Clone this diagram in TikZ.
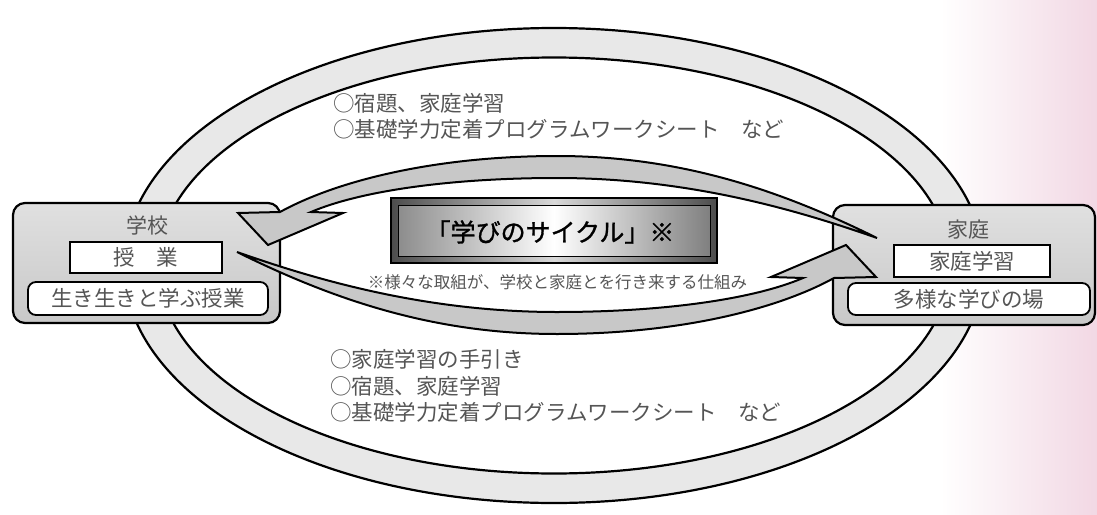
\documentclass[tikz,border=0pt]{standalone}
\usepackage{fontspec}
\newfontfamily\jp{Noto Sans CJK JP}
\newfontfamily\jpbold{Noto Sans CJK JP}[FakeBold=1.2]
\definecolor{txt}{RGB}{85,85,85}
\definecolor{ringfill}{RGB}{232,232,232}
\definecolor{arrowfill}{RGB}{200,200,200}
\definecolor{boxtop}{RGB}{224,224,224}
\definecolor{boxbot}{RGB}{200,200,200}
\definecolor{bgpink}{RGB}{242,216,228}
\begin{document}
\begin{tikzpicture}[x=1pt,y=-1pt,
  sidebox/.style={draw=black, line width=2.2pt, rounded corners=12pt, top color=boxtop, bottom color=boxbot, inner sep=0pt},
  innerbox/.style={draw=black, line width=1.8pt, fill=white, inner sep=0pt, text=txt, font={\jp\fontsize{21.5}{26}\selectfont}},
  lbl/.style={text=txt, inner sep=0pt, font={\jp\fontsize{21}{26}\selectfont}},
  body/.style={text=txt, inner sep=0pt, align=left, anchor=west, font={\jp\fontsize{21.5}{26.5}\selectfont}},
  cyclearrow/.style={fill=arrowfill, draw=black, line width=2pt, line join=miter}]
\useasboundingbox (0,0) rectangle (1097,514);
\shade[left color=white, right color=bgpink] (940,0) rectangle (1097,514);
% outer ring
\coordinate (ringc) at (554,265.5);
\fill[ringfill, even odd rule] (ringc) ellipse [x radius=430pt, y radius=237.5pt] (ringc) ellipse [x radius=396pt, y radius=208pt];
\draw[line width=2.2pt] (ringc) ellipse [x radius=430pt, y radius=237.5pt] (ringc) ellipse [x radius=396pt, y radius=208pt];
% left box
\node[sidebox, minimum width=267pt, minimum height=120pt] (school) at (146.5,263) {};
\node[lbl] (schoollbl) at (147,225) {学校};
\node[innerbox, minimum width=152pt, minimum height=31pt] (jugyo) at (146,257.5) {授　業};
\node[innerbox, rounded corners=8pt, minimum width=240pt, minimum height=33pt] (ikiiki) at (148,298.5) {生き生きと学ぶ授業};
% right box
\node[sidebox, minimum width=262pt, minimum height=120pt] (home) at (964,265) {};
\node[lbl] (homelbl) at (968,230) {家庭};
\node[innerbox, minimum width=156pt, minimum height=32pt] (homestudy) at (972,261) {家庭学習};
\node[innerbox, rounded corners=8pt, minimum width=242pt, minimum height=32pt] (variety) at (969,299) {多様な学びの場};
% cycle arrows
\foreach \r in {0,180}{
  \filldraw[cyclearrow, rotate around={\r:(557,245)}]
    (877,238) .. controls (780,190) and (680,156) .. (557,156)
    .. controls (440,156) and (340,179) .. (280,212)
    -- (238,213) -- (268,245) -- (343,213) -- (311,212)
    .. controls (360,191) and (450,178) .. (557,178)
    .. controls (690,178) and (800,211) .. (877,238) -- cycle;
}
% title
\node[draw=black, line width=2pt, minimum width=326pt, minimum height=65pt, left color=black!70, right color=black!70, middle color=black!15] (titlebox) at (554,230.5) {};
\node[draw=black, line width=1pt, minimum width=312pt, minimum height=51pt, left color=black!45, right color=black!50, middle color=white] (titleinner) at (titlebox.center) {};
\node[inner sep=0pt, font={\jpbold\fontsize{25}{30}\selectfont}] (title) at (550,232) {「学びのサイクル」※};
\node[text=txt, inner sep=0pt, font={\jp\fontsize{16.5}{20}\selectfont}] (note) at (557.5,282) {※様々な取組が、学校と家庭とを行き来する仕組み};
% texts
\node[body] (toptext) at (333,116.5) {○宿題、家庭学習\\○基礎学力定着プログラムワークシート　など};
\node[body] (bottomtext) at (330,386) {○家庭学習の手引き\\○宿題、家庭学習\\○基礎学力定着プログラムワークシート　など};
\end{tikzpicture}
\end{document}
